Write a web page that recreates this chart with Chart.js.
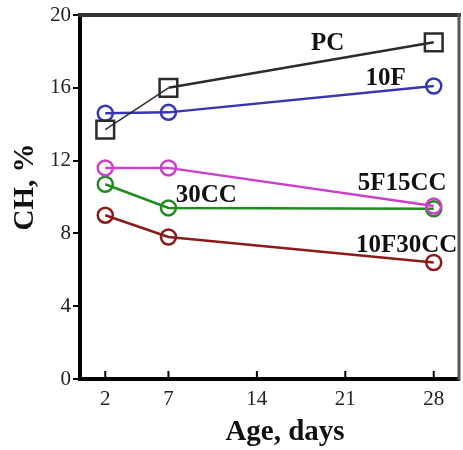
<!DOCTYPE html>
<html>
<head>
<meta charset="utf-8">
<script src="https://cdn.jsdelivr.net/npm/chart.js@4"></script>
<style>
html,body{margin:0;padding:0;background:#fff;}
#wrap{width:463px;height:450px;}
</style>
</head>
<body>
<div id="wrap"><canvas id="c" width="463" height="450"></canvas></div>
<script>
const ages = [2, 7, 28];
const pc = [13.7, 16.0, 18.5];
const f10 = [14.6, 14.65, 16.1];
const f5cc15 = [11.6, 11.6, 9.5];
const cc30 = [10.7, 9.4, 9.35];
const f10cc30 = [9.0, 7.8, 6.4];
const xTicks = [2, 7, 14, 21, 28];
const yTicks = [0, 4, 8, 12, 16, 20];
const seriesNames = ['PC', '10F', '5F15CC', '30CC', '10F30CC'];
const labelX = [19.6, 24.2, 25.5, 10.0, 25.85];
const labelY = [18.45, 16.5, 10.75, 10.08, 7.33];
const xTitle = 'Age, days';
const yTitle = 'CH, %';

const colors = ['#2b2b2b', '#3636b4', '#cc3fcc', '#1e8c1e', '#8b1a1a'];
const serif = '"Liberation Serif", "DejaVu Serif", serif';

function pts(vals){ return ages.map((a,i)=>({x:a, y:vals[i]})); }

const allVals = [pc, f10, f5cc15, cc30, f10cc30];
const drawOrder = [1, 2, 3, 5, 4];
const datasets = allVals.map((v, i) => ({
  label: seriesNames[i],
  data: pts(v),
  borderColor: colors[i],
  backgroundColor: 'rgba(0,0,0,0)',
  borderWidth: 2.5,
  pointStyle: i === 0 ? 'rect' : 'circle',
  pointRadius: i === 0 ? 12.5 : 7.5,
  pointBorderWidth: 2.5,
  pointBorderColor: colors[i],
  pointBackgroundColor: 'rgba(0,0,0,0)',
  order: drawOrder[i],
  clip: false,
  segment: i === 0 ? { borderWidth: ctx => ctx.p0DataIndex === 0 ? 1.5 : 2.5 } : undefined
}));

const decor = {
  id: 'decor',
  afterDatasetsDraw(chart) {
    const {ctx, chartArea: ca, scales} = chart;
    ctx.save();
    ctx.lineCap = 'square';
    ctx.strokeStyle = '#333';
    ctx.lineWidth = 4;
    ctx.beginPath(); ctx.moveTo(ca.left, ca.top); ctx.lineTo(ca.right, ca.top); ctx.stroke();
    ctx.strokeStyle = '#555';
    ctx.lineWidth = 3;
    ctx.beginPath(); ctx.moveTo(ca.right, ca.top); ctx.lineTo(ca.right, ca.bottom); ctx.stroke();
    ctx.strokeStyle = '#000';
    ctx.lineWidth = 2;
    ctx.lineCap = 'butt';
    xTicks.forEach(v => {
      const px = scales.x.getPixelForValue(v);
      ctx.beginPath(); ctx.moveTo(px, ca.bottom); ctx.lineTo(px, ca.bottom - 8); ctx.stroke();
    });
    ctx.fillStyle = '#111';
    ctx.font = 'bold 25px ' + serif;
    ctx.textAlign = 'center';
    ctx.textBaseline = 'middle';
    seriesNames.forEach((n, i) => {
      ctx.fillText(n, scales.x.getPixelForValue(labelX[i]), scales.y.getPixelForValue(labelY[i]));
    });
    ctx.font = 'bold 29px ' + serif;
    ctx.textBaseline = 'alphabetic';
    ctx.fillText(xTitle, 285, 440);
    ctx.translate(33, 187);
    ctx.rotate(-Math.PI / 2);
    ctx.fillText(yTitle, 0, 0);
    ctx.restore();
  }
};

new Chart(document.getElementById('c'), {
  type: 'line',
  data: { datasets },
  options: {
    responsive: false,
    animation: false,
    layout: { autoPadding: false, padding: { top: 15, right: 4, left: 0, bottom: 0 } },
    plugins: { legend: { display: false }, tooltip: { enabled: false } },
    scales: {
      x: {
        type: 'linear', min: 0, max: 30,
        afterBuildTicks: s => { s.ticks = xTicks.map(v => ({ value: v })); },
        afterFit: s => { s.height = 71; s.paddingLeft = 0; s.paddingRight = 0; },
        grid: { display: true, drawOnChartArea: false, drawTicks: false },
        border: { display: true, width: 4, color: '#000' },
        ticks: { font: { family: serif, size: 21 }, color: '#222', padding: 8, maxRotation: 0 }
      },
      y: {
        type: 'linear', min: 0, max: 20,
        afterBuildTicks: s => { s.ticks = yTicks.map(v => ({ value: v })); },
        afterFit: s => { s.width = 80; s.paddingTop = 0; s.paddingBottom = 0; },
        grid: { display: true, drawOnChartArea: false, drawTicks: true, tickLength: 7, tickColor: '#000', lineWidth: 2 },
        border: { display: true, width: 4, color: '#000' },
        ticks: { font: { family: serif, size: 21 }, color: '#222', padding: 2 }
      }
    }
  },
  plugins: [decor]
});
</script>
</body>
</html>
